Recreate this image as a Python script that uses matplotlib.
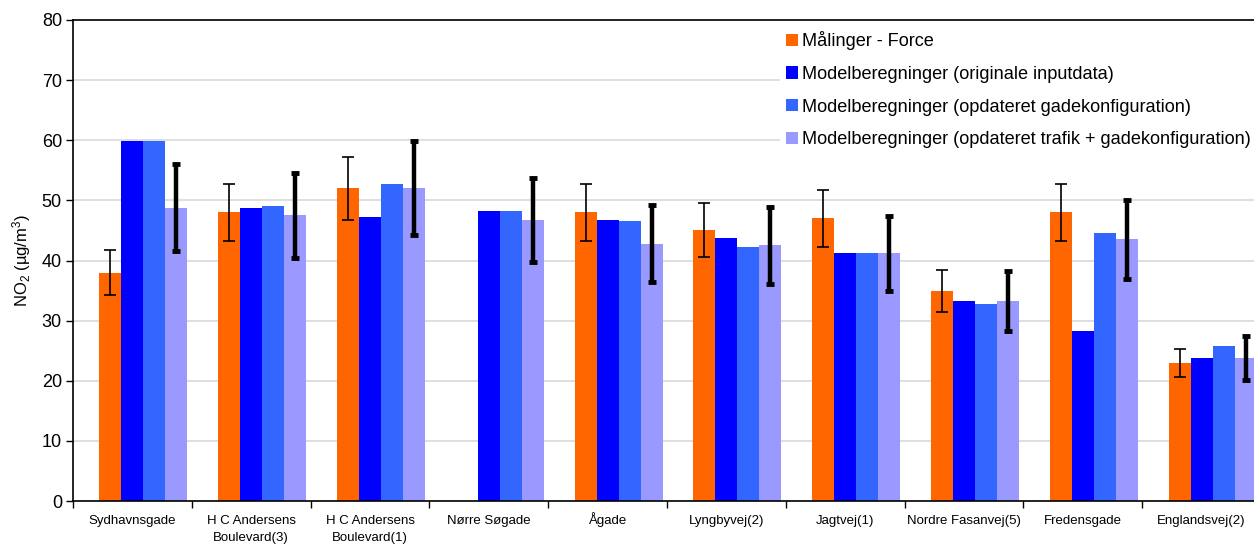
import numpy as np
import matplotlib
matplotlib.use("Agg")
import matplotlib.pyplot as plt
import matplotlib.transforms as mtransforms

plt.rcParams["font.family"] = ["Liberation Sans", "DejaVu Sans"]
plt.rcParams["mathtext.default"] = "regular"

categories = ["Sydhavnsgade", "H C Andersens\nBoulevard(3)", "H C Andersens\nBoulevard(1)",
              "Nørre Søgade", "Ågade", "Lyngbyvej(2)", "Jagtvej(1)",
              "Nordre Fasanvej(5)", "Fredensgade", "Englandsvej(2)"]

maalinger = [38.0, 48.0, 52.0, np.nan, 48.0, 45.0, 47.0, 35.0, 48.0, 23.0]
model_orig = [59.8, 48.7, 47.2, 48.3, 46.7, 43.8, 41.2, 33.2, 28.3, 23.8]
model_gade = [59.8, 49.0, 52.7, 48.3, 46.5, 42.3, 41.2, 32.8, 44.5, 25.7]
model_trafik_gade = [48.8, 47.5, 52.0, 46.7, 42.8, 42.5, 41.2, 33.2, 43.5, 23.8]

# uncertainty of the measurements and of the final model run
err_maalinger = [3.8, 4.8, 5.2, np.nan, 4.8, 4.5, 4.7, 3.5, 4.8, 2.3]
err_model = [7.3, 7.1, 7.8, 7.0, 6.4, 6.4, 6.2, 5.0, 6.5, 3.6]

series_labels = ["Målinger - Force",
                 "Modelberegninger (originale inputdata)",
                 "Modelberegninger (opdateret gadekonfiguration)",
                 "Modelberegninger (opdateret trafik + gadekonfiguration)"]
colors = ["#FF6600", "#0000FF", "#3366FF", "#9999FF"]
yticks = [0, 10, 20, 30, 40, 50, 60, 70, 80]

W, H = 1254, 544
fig = plt.figure(figsize=(W / 100, H / 100), dpi=100)
ax = fig.add_axes([73 / W, 43 / H, 1188 / W, 481 / H])

x = np.arange(len(categories))
width = 0.185
series = [maalinger, model_orig, model_gade, model_trafik_gade]
for k, (vals, col, lab) in enumerate(zip(series, colors, series_labels)):
    ax.bar(x + (k - 1) * width, vals, width=width, color=col, label=lab,
           zorder=2, linewidth=0)

ax.errorbar(x - width, maalinger, yerr=err_maalinger, fmt="none",
            ecolor="black", elinewidth=1.2, capsize=4.5, capthick=1.2, zorder=3)
ax.errorbar(x + 2 * width, model_trafik_gade, yerr=err_model, fmt="none",
            ecolor="black", elinewidth=3.2, capsize=3.2, capthick=3.5, zorder=3)

ax.set_xlim(-0.5, len(categories) - 0.5)
ax.set_ylim(0, 80)
ax.set_yticks(yticks)
ax.tick_params(axis="y", labelsize=13, length=5, width=1, direction="out", pad=3)

# group separators as ticks, category names on a shared baseline per line
ax.set_xticks(np.arange(len(categories) + 1) - 0.5)
ax.set_xticklabels([])
ax.tick_params(axis="x", which="major", length=5, width=1, direction="out")
base = ax.get_xaxis_transform()
for xi, name in zip(x, categories):
    for i, line in enumerate(name.split("\n")):
        tr = mtransforms.offset_copy(base, fig=fig, y=-(16.6 + 12.2 * i), units="points")
        ax.text(xi, 0, line, transform=tr, ha="center", va="baseline",
                fontsize=9.5, clip_on=False)

ax.yaxis.grid(True, color="#D9D9D9", linewidth=1.2, zorder=0)
ax.set_axisbelow(True)
for s in ["left", "bottom", "top"]:
    ax.spines[s].set_linewidth(1.2)
ax.spines["right"].set_visible(False)

ax.set_ylabel("NO$_2$ (µg/m$^3$)", fontsize=12, labelpad=6)

leg = ax.legend(loc="upper left", bbox_to_anchor=(702 / 1188, 1.0), fontsize=13.1,
                frameon=True, facecolor="white", edgecolor="white", framealpha=1,
                fancybox=False, handlelength=0.66, handleheight=0.66,
                handletextpad=0.22, labelspacing=0.86, borderpad=0.32,
                borderaxespad=0.3)
leg.set_zorder(5)

fig.savefig("out.png", dpi=100)
